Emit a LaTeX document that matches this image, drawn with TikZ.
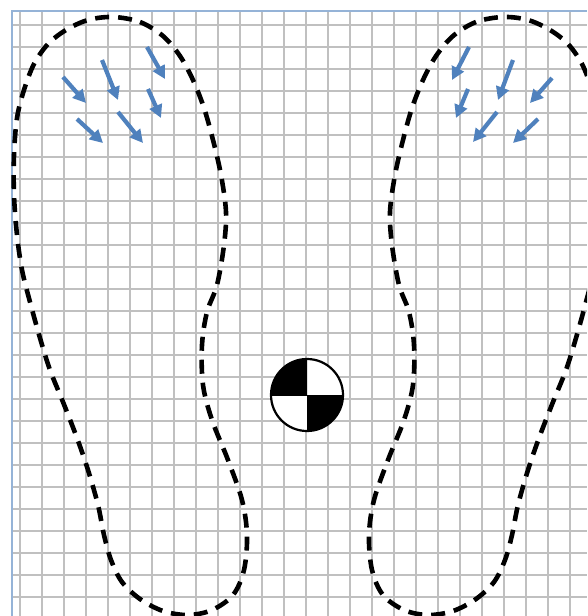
\documentclass[tikz,border=0pt]{standalone}
\usetikzlibrary{arrows.meta}
\definecolor{gridgray}{HTML}{C0C0C0}
\definecolor{edgeblue}{HTML}{95B3D7}
\definecolor{arrowblue}{HTML}{4F81BD}
\tikzset{
  gridline/.style={draw=gridgray, line width=1.4pt},
  borderline/.style={draw=edgeblue, line width=1.2pt},
  outline/.style={draw=black, line width=4.6pt, dash pattern=on 14pt off 9pt},
  force/.style={draw=arrowblue, line width=4.2pt, -{Triangle[width=13pt,length=13pt]}},
  comnode/.style={circle, draw=black, line width=2.2pt, minimum size=72pt, inner sep=0pt}
}
\begin{document}
\begin{tikzpicture}[x=1pt,y=-1pt]
\useasboundingbox (0,0) rectangle (587,616);
\clip (0,0) rectangle (587,616);
\fill[white] (0,0) rectangle (587,616);
% grid
\foreach \k in {0,...,25} \draw[gridline] ({20+22*\k},11) -- ({20+22*\k},616);
\foreach \k in {0,...,26} \draw[gridline] (12,{25+22*\k}) -- (587,{25+22*\k});
\draw[borderline] (12,616) -- (12,11) -- (587,11);
% feet outlines
\foreach \s/\t in {1/0,-1/616}{
\begin{scope}[xshift=\t pt, xscale=\s]
\draw[outline] plot[smooth cycle, tension=0.55] coordinates {
(113,17) (140,22) (163,36) (180,56) (193,80) (204,108) (213,140) (221,175)
(226,212) (224,245) (217,285) (207,312) (202,345) (203,385) (212,420) (228,460)
(242,500) (247,535) (244,570) (233,595) (212,610) (188,615) (163,611) (140,599)
(122,582) (111,560) (104,535) (98,505) (88,470) (77,438) (63,402) (50,370)
(40,338) (30,302) (22,270) (17,235) (14,195) (14,155) (17,118) (24,90)
(34,64) (48,44) (66,30) (88,20)};
\end{scope}
}
% force arrows, left foot
\draw[force] (63,77) -- (86,103);
\draw[force] (102,60) -- (118,100);
\draw[force] (147,47) -- (165,79);
\draw[force] (148,89) -- (161,118);
\draw[force] (77,119) -- (103,143);
\draw[force] (118,112) -- (143,143);
% force arrows, right foot
\draw[force] (469,47) -- (452,80);
\draw[force] (513,60) -- (498,100);
\draw[force] (552,78) -- (530,103);
\draw[force] (468,89) -- (456,118);
\draw[force] (497,112) -- (473,142);
\draw[force] (538,119) -- (513,143);
% centre of mass symbol
\coordinate (comc) at (307,395);
\fill[white] (comc) circle[radius=36pt];
\begin{scope}
\clip (comc) rectangle ++(-40,-40);
\fill[black] (comc) circle[radius=36pt];
\end{scope}
\begin{scope}
\clip (comc) rectangle ++(40,40);
\fill[black] (comc) circle[radius=36pt];
\end{scope}
\node[comnode] (com) at (comc) {};
\end{tikzpicture}
\end{document}
